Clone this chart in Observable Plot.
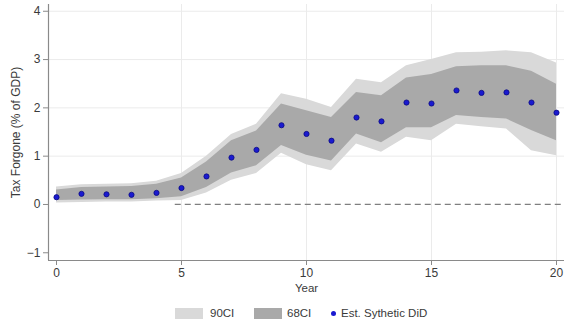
<!DOCTYPE html>
<html>
<head>
<meta charset="utf-8">
<script src="https://cdn.jsdelivr.net/npm/d3@7"></script>
<script src="https://cdn.jsdelivr.net/npm/@observablehq/plot@0.6"></script>
<style>
  html, body { margin: 0; padding: 0; background: #fff; }
  body { width: 564px; height: 329px; overflow: hidden; font-family: "Liberation Sans", Arial, sans-serif; }
  #legend { position: relative; height: 27px; font-size: 11.5px; color: #3a3a3a; }
  .sw { position: absolute; top: 6px; width: 28px; height: 11px; }
  .lt { position: absolute; top: 4px; line-height: 14px; }
  .dot { position: absolute; top: 9px; width: 5px; height: 5px; border-radius: 50%; background: #1a1ad0; }
</style>
</head>
<body>
<div id="chart"></div>
<div id="legend">
  <div class="sw" style="left:175px;background:#d9d9d9"></div><div class="lt" style="left:210px">90CI</div>
  <div class="sw" style="left:254px;background:#a9a9a9"></div><div class="lt" style="left:287px">68CI</div>
  <div class="dot" style="left:331px"></div><div class="lt" style="left:341px">Est. Sythetic DiD</div>
</div>
<script>
const years = [0,1,2,3,4,5,6,7,8,9,10,11,12,13,14,15,16,17,18,19,20];
const est   = [0.15,0.22,0.21,0.20,0.24,0.34,0.58,0.97,1.13,1.64,1.46,1.32,1.80,1.72,2.11,2.09,2.36,2.31,2.32,2.11,1.90];
const lo68  = [0.08,0.09,0.10,0.10,0.12,0.16,0.35,0.65,0.80,1.22,1.02,0.90,1.46,1.28,1.59,1.59,1.84,1.80,1.77,1.53,1.32];
const hi68  = [0.30,0.35,0.36,0.37,0.42,0.55,0.88,1.32,1.52,2.08,1.94,1.80,2.32,2.25,2.62,2.69,2.85,2.87,2.87,2.76,2.49];
const lo90  = [0.03,0.04,0.05,0.05,0.07,0.08,0.24,0.50,0.64,1.06,0.82,0.70,1.25,1.08,1.39,1.32,1.66,1.61,1.56,1.11,1.01];
const hi90  = [0.36,0.41,0.42,0.43,0.48,0.64,1.00,1.45,1.66,2.29,2.18,2.01,2.59,2.52,2.87,3.00,3.14,3.15,3.18,3.14,2.93];
const xTicks = [0,5,10,15,20];
const yTicks = [-1,0,1,2,3,4];
const yTitle = "Tax Forgone (% of GDP)";
const xTitle = "Year";

const rows = years.map((y,i) => ({year:y, est:est[i], lo68:lo68[i], hi68:hi68[i], lo90:lo90[i], hi90:hi90[i]}));
const xDom = [-0.32, 20.32], yDom = [-1.16, 4.14];

const chart = Plot.plot({
  width: 564, height: 302,
  marginLeft: 48, marginRight: 0, marginTop: 4, marginBottom: 42,
  style: {fontFamily: '"Liberation Sans", Arial, sans-serif', fontSize: "11px", color: "#3a3a3a"},
  x: {domain: xDom},
  y: {domain: yDom},
  marks: [
    Plot.gridX(xTicks.slice(1), {stroke: "#ebebeb", strokeOpacity: 1}),
    Plot.gridY(yTicks.filter(d => d > 0), {stroke: "#ebebeb", strokeOpacity: 1}),
    Plot.areaY(rows, {x: "year", y1: "lo90", y2: "hi90", fill: "#d9d9d9"}),
    Plot.areaY(rows, {x: "year", y1: "lo68", y2: "hi68", fill: "#a9a9a9"}),
    Plot.ruleY([0], {x1: 4.75, x2: xDom[1], stroke: "#7f7f7f", strokeWidth: 1.2, strokeDasharray: "6,4"}),
    Plot.dot(rows, {x: "year", y: "est", r: 2.6, fill: "#1a1ad0", stroke: "#0a0a80", strokeWidth: 0.8}),
    Plot.ruleX([xDom[0]], {stroke: "#8a8a8a", strokeWidth: 1.2}),
    Plot.ruleY([yDom[0]], {stroke: "#8a8a8a", strokeWidth: 1.2}),
    Plot.axisX(xTicks, {label: null, tickSize: 5, tickPadding: 3, stroke: "#8a8a8a", fill: "#3a3a3a", fontSize: 12}),
    Plot.axisY(yTicks, {label: null, tickSize: 5, tickPadding: 3, stroke: "#8a8a8a", fill: "#3a3a3a", fontSize: 12}),
    Plot.text([yTitle], {frameAnchor: "left", textAnchor: "middle", dx: -32, rotate: -90, fill: "#3a3a3a", fontSize: 12}),
    Plot.text([xTitle], {frameAnchor: "bottom", dy: 31, fill: "#3a3a3a", fontSize: 11.5})
  ]
});
document.getElementById("chart").appendChild(chart);
</script>
</body>
</html>
